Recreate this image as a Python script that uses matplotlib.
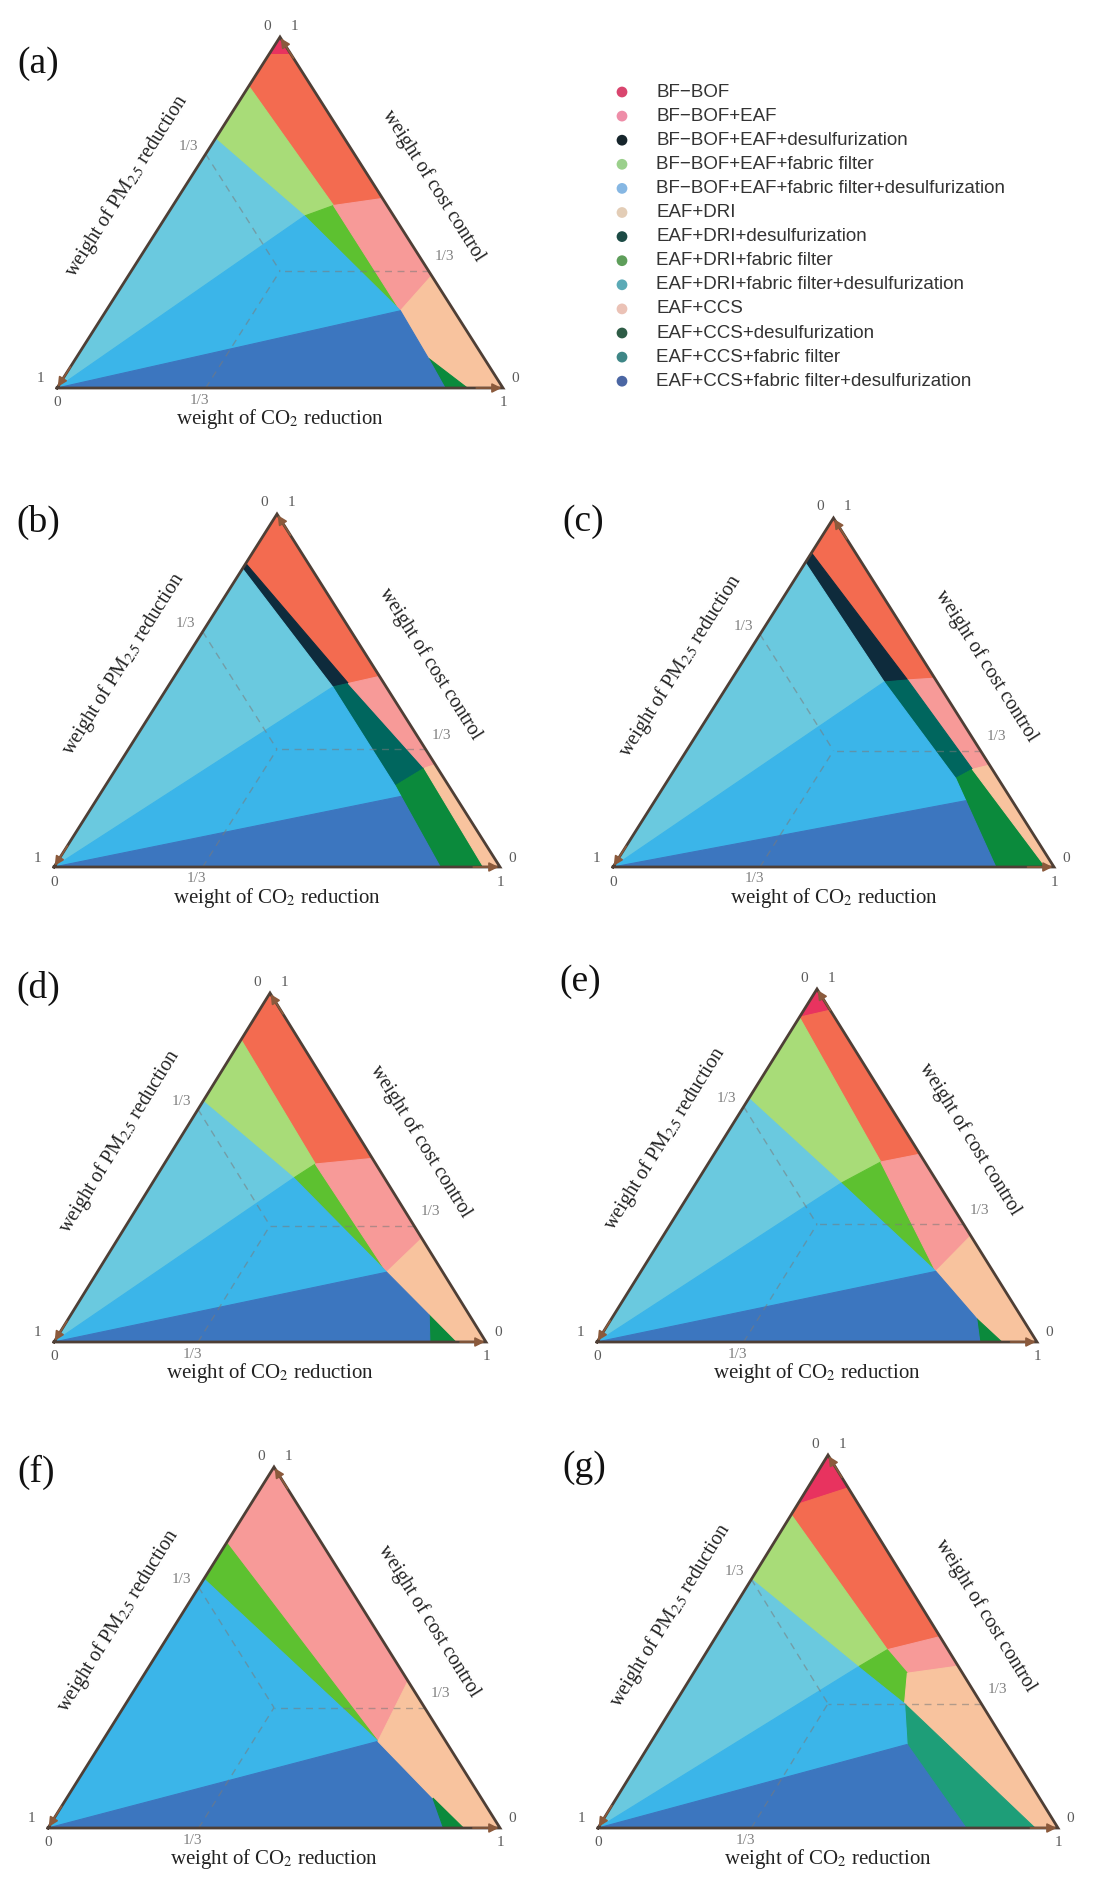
import numpy as np
import matplotlib.pyplot as plt
from matplotlib.patches import Polygon

plt.rcParams['font.family'] = ['Liberation Serif', 'DejaVu Serif']
plt.rcParams['mathtext.fontset'] = 'stix'

W, H = 1100, 1877

portfolios = [
    'BF\u2212BOF',
    'BF\u2212BOF+EAF',
    'BF\u2212BOF+EAF+desulfurization',
    'BF\u2212BOF+EAF+fabric filter',
    'BF\u2212BOF+EAF+fabric filter+desulfurization',
    'EAF+DRI',
    'EAF+DRI+desulfurization',
    'EAF+DRI+fabric filter',
    'EAF+DRI+fabric filter+desulfurization',
    'EAF+CCS',
    'EAF+CCS+desulfurization',
    'EAF+CCS+fabric filter',
    'EAF+CCS+fabric filter+desulfurization',
]
fill_colors = ['#E8335F', '#F36B50', '#0E2B3C', '#A8DC78', '#6AC9DF',
               '#F79A98', '#00665E', '#5DC130', '#3BB5E9',
               '#F8C39E', '#0B8A3C', '#1E9E78', '#3C76BF']
legend_colors = ['#D9456E', '#EE8DA8', '#16252B', '#9BD08C', '#86B7E3',
                 '#E3CDB6', '#1C4B45', '#5E9E5A', '#5BAAB6',
                 '#EBC2B6', '#2E5C46', '#3E8686', '#4B66A3']

# optimal portfolio regions: (portfolio index, [(w_CO2, w_cost), ...]),
# w_PM2.5 = 1 - w_CO2 - w_cost
regions_a = [
    (0, [(0, 1), (0, 0.95), (0.05, 0.95)]),
    (1, [(0, 0.95), (0.05, 0.95), (0.46, 0.54), (0.36, 0.52), (0, 0.86)]),
    (3, [(0, 0.86), (0.36, 0.52), (0.31, 0.49), (0, 0.71)]),
    (7, [(0.31, 0.49), (0.36, 0.52), (0.66, 0.22)]),
    (5, [(0.36, 0.52), (0.46, 0.54), (0.68, 0.32), (0.66, 0.22)]),
    (9, [(0.66, 0.22), (0.68, 0.32), (1, 0), (0.92, 0), (0.79, 0.085)]),
    (10, [(0.79, 0.085), (0.92, 0), (0.87, 0)]),
    (4, [(0, 0.71), (0.31, 0.49), (0, 0)]),
    (8, [(0, 0), (0.31, 0.49), (0.66, 0.22)]),
    (12, [(0, 0), (0.66, 0.22), (0.79, 0.085), (0.87, 0)]),
]
regions_b = [
    (1, [(0, 1), (0, 0.86), (0.40, 0.52), (0.46, 0.54)]),
    (2, [(0, 0.86), (0.40, 0.52), (0.37, 0.51), (0, 0.845)]),
    (6, [(0.37, 0.51), (0.40, 0.52), (0.69, 0.28), (0.65, 0.23)]),
    (5, [(0.40, 0.52), (0.46, 0.54), (0.71, 0.29), (0.69, 0.28)]),
    (10, [(0.65, 0.23), (0.69, 0.28), (0.963, 0), (0.866, 0)]),
    (9, [(0.69, 0.28), (0.71, 0.29), (1, 0), (0.963, 0)]),
    (4, [(0, 0.845), (0.37, 0.51), (0, 0)]),
    (8, [(0, 0), (0.37, 0.51), (0.65, 0.23), (0.678, 0.20)]),
    (12, [(0, 0), (0.678, 0.20), (0.866, 0)]),
]
regions_c = [
    (1, [(0, 1), (0, 0.90), (0.40, 0.536), (0.459, 0.541)]),
    (2, [(0, 0.90), (0.40, 0.536), (0.35, 0.53), (0, 0.872)]),
    (5, [(0.40, 0.536), (0.459, 0.541), (0.708, 0.292), (0.675, 0.28)]),
    (6, [(0.35, 0.53), (0.40, 0.536), (0.675, 0.28), (0.65, 0.254)]),
    (10, [(0.65, 0.254), (0.675, 0.28), (0.981, 0), (0.868, 0)]),
    (9, [(0.675, 0.28), (0.708, 0.292), (1, 0), (0.981, 0)]),
    (4, [(0, 0.872), (0.35, 0.53), (0, 0)]),
    (8, [(0, 0), (0.35, 0.53), (0.65, 0.254), (0.705, 0.19)]),
    (12, [(0, 0), (0.705, 0.19), (0.868, 0)]),
]
regions_d = [
    (1, [(0, 1), (0, 0.866), (0.35, 0.51), (0.474, 0.526)]),
    (3, [(0, 0.866), (0.35, 0.51), (0.32, 0.47), (0, 0.69)]),
    (7, [(0.32, 0.47), (0.35, 0.51), (0.67, 0.20)]),
    (5, [(0.35, 0.51), (0.474, 0.526), (0.703, 0.297), (0.67, 0.20)]),
    (9, [(0.67, 0.20), (0.703, 0.297), (1, 0), (0.93, 0), (0.83, 0.077)]),
    (10, [(0.83, 0.077), (0.93, 0), (0.87, 0)]),
    (4, [(0, 0.69), (0.32, 0.47), (0, 0)]),
    (8, [(0, 0), (0.32, 0.47), (0.67, 0.20)]),
    (12, [(0, 0), (0.67, 0.20), (0.83, 0.077), (0.87, 0)]),
]
regions_e = [
    (0, [(0, 1), (0, 0.92), (0.06, 0.94)]),
    (1, [(0, 0.92), (0.06, 0.94), (0.468, 0.532), (0.39, 0.51)]),
    (3, [(0, 0.92), (0.39, 0.51), (0.33, 0.45), (0, 0.69)]),
    (7, [(0.33, 0.45), (0.39, 0.51), (0.67, 0.20)]),
    (5, [(0.39, 0.51), (0.468, 0.532), (0.699, 0.301), (0.67, 0.20)]),
    (9, [(0.67, 0.20), (0.699, 0.301), (1, 0), (0.92, 0), (0.83, 0.066)]),
    (10, [(0.83, 0.066), (0.92, 0), (0.87, 0)]),
    (4, [(0, 0.69), (0.33, 0.45), (0, 0)]),
    (8, [(0, 0), (0.33, 0.45), (0.67, 0.20)]),
    (12, [(0, 0), (0.67, 0.20), (0.83, 0.066), (0.87, 0)]),
]
regions_f = [
    (5, [(0, 1), (0, 0.79), (0.61, 0.24), (0.593, 0.407)]),
    (7, [(0, 0.79), (0.61, 0.24), (0, 0.69)]),
    (8, [(0, 0.69), (0.61, 0.24), (0, 0)]),
    (12, [(0, 0), (0.61, 0.24), (0.81, 0.083), (0.875, 0)]),
    (9, [(0.61, 0.24), (0.593, 0.407), (1, 0), (0.919, 0), (0.81, 0.083)]),
    (10, [(0.81, 0.083), (0.919, 0), (0.875, 0)]),
]
regions_g = [
    (0, [(0, 1), (0, 0.868), (0.088, 0.912)]),
    (1, [(0, 0.868), (0.088, 0.912), (0.487, 0.513), (0.39, 0.478), (0, 0.84)]),
    (3, [(0, 0.84), (0.39, 0.478), (0.35, 0.432), (0, 0.667)]),
    (5, [(0.39, 0.478), (0.487, 0.513), (0.566, 0.434), (0.465, 0.415)]),
    (7, [(0.35, 0.432), (0.39, 0.478), (0.465, 0.415), (0.50, 0.333)]),
    (9, [(0.465, 0.415), (0.566, 0.434), (1, 0), (0.95, 0), (0.50, 0.333)]),
    (11, [(0.50, 0.333), (0.95, 0), (0.80, 0), (0.56, 0.224)]),
    (4, [(0, 0.667), (0.35, 0.432), (0, 0)]),
    (8, [(0, 0), (0.35, 0.432), (0.50, 0.333), (0.56, 0.224)]),
    (12, [(0, 0), (0.56, 0.224), (0.80, 0)]),
]

# panel layout in pixels: letter, regions, (left, right, top, bottom), letter position
panels = [
    ('(a)', regions_a, (57, 503, 37, 388), (38, 64)),
    ('(b)', regions_b, (54, 500, 514, 867), (38, 522)),
    ('(c)', regions_c, (613, 1054, 518, 867), (583, 522)),
    ('(d)', regions_d, (54, 486, 993, 1342), (38, 988)),
    ('(e)', regions_e, (597, 1037, 989, 1342), (580, 982)),
    ('(f)', regions_f, (48, 500, 1467, 1828), (36, 1472)),
    ('(g)', regions_g, (598, 1058, 1455, 1828), (584, 1468)),
]

edge_color = '#4E3F36'
arrow_color = '#8B5A3C'
tick_color = '#5A5A5A'


def tern(co2, cost):
    return co2 + cost / 2, cost


def draw_panel(letter, regions, box, letter_pos):
    x0, x1, ytop, ybot = box
    w, h = x1 - x0, ybot - ytop
    ax = fig.add_axes([x0 / W, 1 - ybot / H, w / W, h / H])
    ax.set_xlim(0, 1)
    ax.set_ylim(0, 1)
    ax.axis('off')

    for idx, verts in regions:
        pts = [tern(a, b) for a, b in verts]
        ax.add_patch(Polygon(pts, closed=True, facecolor=fill_colors[idx],
                             edgecolor=fill_colors[idx], lw=0.8))

    # dashed guides from the 1/3 ticks to the centroid
    centre = tern(1 / 3, 1 / 3)
    for start in [(0, 2 / 3), (2 / 3, 1 / 3), (1 / 3, 0)]:
        sx, sy = tern(*start)
        ax.plot([sx, centre[0]], [sy, centre[1]], ls=(0, (5, 4)),
                color='#7A7A7A', lw=1.0, alpha=0.55)

    bl, br, top = tern(0, 0), tern(1, 0), tern(0, 1)
    ax.plot([bl[0], br[0], top[0], bl[0]], [bl[1], br[1], top[1], bl[1]],
            color=edge_color, lw=2.0, solid_joinstyle='miter', clip_on=False)
    # arrow heads: CO2 towards the right, cost towards the top, PM2.5 towards bottom-left
    for tip, tail in [(br, tern(0.94, 0)), (top, tern(0.06, 0.94)),
                      (bl, tern(0, 0.06))]:
        ax.annotate('', xy=tip, xytext=tail,
                    arrowprops=dict(arrowstyle='-|>', color=arrow_color,
                                    lw=1.2, mutation_scale=14,
                                    shrinkA=0, shrinkB=1))

    ang = np.degrees(np.arctan2(h, w / 2))
    nlen = np.hypot(h, w / 2)
    off = 50
    ax.annotate('weight of PM$_{2.5}$ reduction', xy=tern(0, 0.5),
                xytext=(-off * h / nlen, off * (w / 2) / nlen),
                textcoords='offset pixels', rotation=ang,
                ha='center', va='center', fontsize=14.5, color='#222222')
    ax.annotate('weight of cost control', xy=tern(0.5, 0.5),
                xytext=(off * h / nlen, off * (w / 2) / nlen),
                textcoords='offset pixels', rotation=-ang,
                ha='center', va='center', fontsize=14.5, color='#222222')
    ax.annotate('weight of CO$_2$ reduction', xy=tern(0.5, 0),
                xytext=(0, -31), textcoords='offset pixels',
                ha='center', va='center', fontsize=15, color='#222222')

    tick_labels = [
        ('0', top, (-13, 11)), ('1', top, (14, 11)),
        ('1', bl, (-17, 9)), ('0', bl, (0, -15)),
        ('0', br, (12, 9)), ('1', br, (0, -15)),
    ]
    for txt, xy, o in tick_labels:
        ax.annotate(txt, xy=xy, xytext=o, textcoords='offset pixels',
                    ha='center', va='center', fontsize=11, color=tick_color)
    for xy, o in [(tern(0, 2 / 3), (-17, 8)), (tern(2 / 3, 1 / 3), (16, 14)),
                  (tern(1 / 3, 0), (-6, -12))]:
        ax.annotate('1/3', xy=xy, xytext=o, textcoords='offset pixels',
                    ha='center', va='center', fontsize=11, color='#808080')

    fig.text(letter_pos[0] / W, 1 - letter_pos[1] / H, letter,
             ha='center', va='center', fontsize=27, color='#111111')


fig = plt.figure(figsize=(W / 100, H / 100), dpi=100)
fig.patch.set_facecolor('white')

for letter, regions, box, lpos in panels:
    draw_panel(letter, regions, box, lpos)

# legend
lax = fig.add_axes([0, 0, 1, 1])
lax.set_xlim(0, W)
lax.set_ylim(H, 0)
lax.axis('off')
for i, (name, col) in enumerate(zip(portfolios, legend_colors)):
    y = 92 + 24.1 * i
    lax.scatter([622], [y], s=60, color=col, edgecolor='none')
    lax.text(656, y, name, va='center', ha='left', fontsize=13.5,
             color='#333333', family=['Liberation Sans', 'DejaVu Sans'])

fig.savefig('out.png', dpi=100, facecolor='white')
